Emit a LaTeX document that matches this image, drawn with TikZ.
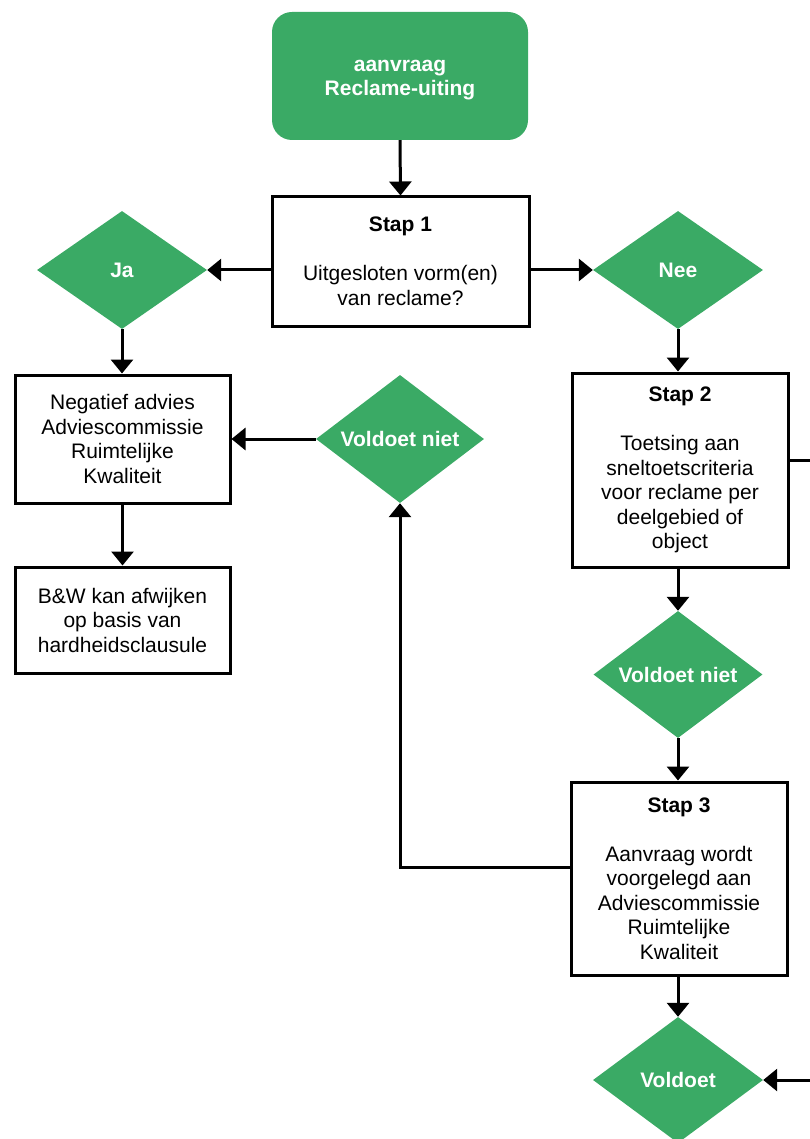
\documentclass[tikz,border=0pt]{standalone}
\usepackage{fontspec}
\setmainfont{Liberation Sans}
\usetikzlibrary{shapes.geometric,arrows.meta,calc}
\definecolor{flowgreen}{HTML}{3AAA65}
\tikzset{
  line/.style={line width=3pt, line cap=rect},
  arr/.style={line width=3pt, -{Triangle[length=14pt,width=22pt]}},
  stepbox/.style={draw, line width=3pt, rectangle, inner sep=0pt, align=center,
    font=\fontsize{21pt}{24.5pt}\selectfont},
  startbox/.style={fill=flowgreen, rounded corners=20pt, inner sep=0pt},
  decision/.style={diamond, fill=flowgreen, inner sep=0pt},
  dlabel/.style={text=white, align=center, font=\fontsize{21pt}{24.5pt}\selectfont\bfseries}
}
\begin{document}
\begin{tikzpicture}[x=1pt,y=-1pt]
\useasboundingbox (0,0) rectangle (810,1139);
\clip (0,0) rectangle (810,1139);

\node[startbox, minimum width=256pt, minimum height=128pt] (start) at (400,76) {};
\node[dlabel] (startl) at ($(start.center)+(0,4)$) {aanvraag\\Reclame-uiting};

\node[stepbox, minimum width=257pt, minimum height=129pt] (stap1) at (400.5,261.5)
  {\textbf{Stap 1}\\[24.5pt]Uitgesloten vorm(en)\\van reclame?};

\node[decision, minimum width=170pt, minimum height=118pt] (ja) at (122,270) {};
\node[dlabel] (jal) at (ja.center) {Ja};

\node[decision, minimum width=170pt, minimum height=118pt] (nee) at (678,270) {};
\node[dlabel] (neel) at (nee.center) {Nee};

\node[stepbox, minimum width=215pt, minimum height=128pt] (neg) at (122.5,439)
  {Negatief advies\\Adviescommissie\\Ruimtelijke\\Kwaliteit};

\node[stepbox, minimum width=215pt, minimum height=106pt] (bw) at (122.5,620)
  {B\&W kan afwijken\\op basis van\\hardheidsclausule};

\node[decision, minimum width=168pt, minimum height=128pt] (vn1) at (400,439) {};
\node[dlabel] (vn1l) at (vn1.center) {Voldoet niet};

\node[stepbox, minimum width=216pt, minimum height=194pt] (stap2) at (680,470)
  {\textbf{Stap 2}\\[24.5pt]Toetsing aan\\sneltoetscriteria\\voor reclame per\\deelgebied of\\object};

\node[decision, minimum width=169pt, minimum height=127pt] (vn2) at (678,674.5) {};
\node[dlabel] (vn2l) at (vn2.center) {Voldoet niet};

\node[stepbox, minimum width=216pt, minimum height=193pt] (stap3) at (679,878.5)
  {\textbf{Stap 3}\\[24.5pt]Aanvraag wordt\\voorgelegd aan\\Adviescommissie\\Ruimtelijke\\Kwaliteit};

\node[decision, minimum width=170pt, minimum height=126pt] (vold) at (678,1080) {};
\node[dlabel] (voldl) at (vold.center) {Voldoet};

\coordinate (r1) at (812,460);
\coordinate (r2) at (812,1080);
\coordinate (s3w) at (stap3.west |- 0,867);
\coordinate (s2e) at (stap2.east |- r1);

% connectors
\draw[arr] (start.south) -- (stap1.north);
\draw[arr] (stap1.west |- ja.east) -- (ja.east);
\draw[arr] (stap1.east |- nee.west) -- (nee.west);
\draw[arr] (ja.south) -- (ja.south |- neg.north);
\draw[arr] (neg.south) -- (bw.north);
\draw[arr] (vn1.west) -- (neg.east |- vn1.west);
\draw[arr] (nee.south) -- (nee.south |- stap2.north);
\draw[arr] (stap2.south -| vn2.north) -- (vn2.north);
\draw[arr] (vn2.south) -- (vn2.south |- stap3.north);
\draw[arr] (s3w) -| (vn1.south);
\draw[arr] (stap3.south -| vold.north) -- (vold.north);
\draw[arr] (r2) -- (vold.east);
\draw[line] (s2e) -- (r1);
\end{tikzpicture}
\end{document}
